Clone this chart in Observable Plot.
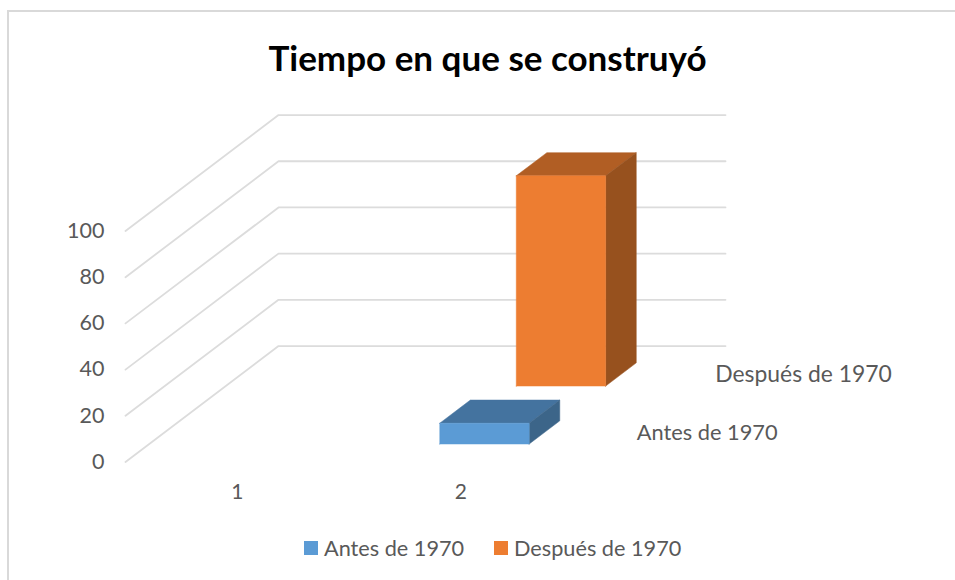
<!DOCTYPE html>
<html lang="es">
<head>
<meta charset="utf-8">
<script src="https://cdn.jsdelivr.net/npm/d3@7"></script>
<script src="https://cdn.jsdelivr.net/npm/@observablehq/plot@0.6"></script>
<style>
  html, body { margin: 0; padding: 0; background: #fff; }
  #chart { position: relative; width: 955px; height: 580px; overflow: hidden; font-family: Lato, sans-serif; }
  #frame { position: absolute; left: 7px; top: 10px; right: -5px; bottom: -5px; border: 2px solid #d9d9d9; box-sizing: border-box; }
  #title { position: absolute; left: 7px; width: 961px; top: 37px; text-align: center; font-size: 35px; line-height: 40px; font-weight: 700; color: #000; margin: 0; }
  #legend { position: absolute; top: 536px; left: 0; height: 24px; }
  #legend .item { position: absolute; top: 0; white-space: nowrap; font-size: 21.7px; line-height: 24px; color: #595959; }
  #legend .swatch { position: absolute; left: 0; top: 5px; width: 14px; height: 14px; }
  #legend .label { position: absolute; left: 20px; top: 0; }
  #plot { position: absolute; left: 0; top: 0; }
</style>
</head>
<body>
<div id="chart">
  <div id="frame"></div>
  <div id="plot"></div>
  <h1 id="title"></h1>
  <div id="legend"></div>
</div>
<script>
const chartTitle = "Tiempo en que se construyó";
const categories = ["1", "2"];
const series = ["Antes de 1970", "Después de 1970"];
const seriesCategory = [1, 1];          // both bars stand on category "2"
const values = [9, 91];
const yTicks = [0, 20, 40, 60, 80, 100];
const frontColors = ["#5b9bd5", "#ed7d31"];
const topColors = ["#44739f", "#b15e24"];
const sideColors = ["#3c6589", "#97511e"];

// Oblique projection: one unit of depth, expressed in x and y scale units.
const depthX = 0.6846, depthY = 50.2;
const seriesDepth = [0.255, 0.755];
const barDepth = 0.2, barWidth = 0.4;
const labelDepth = [0.25, 0.75];
const labelSize = [21.8, 22.9];
const labelOffset = [26, 28];
const px = (c, d) => c + d * depthX;
const py = (v, d) => v + d * depthY;
const pt = (c, v, d, key) => ({x: px(c, d), y: py(v, d), key});

const grid = yTicks.flatMap((t) => [
  pt(0, t, 0, t), pt(0, t, 1, t), pt(categories.length, t, 1, t)
]);

function face(i, kind) {
  const c0 = seriesCategory[i] + 0.5 - barWidth / 2, c1 = c0 + barWidth;
  const d0 = seriesDepth[i] - barDepth / 2, d1 = d0 + barDepth;
  const v = values[i];
  if (kind === "front") return [pt(c0,0,d0), pt(c1,0,d0), pt(c1,v,d0), pt(c0,v,d0), pt(c0,0,d0)];
  if (kind === "top")   return [pt(c0,v,d0), pt(c1,v,d0), pt(c1,v,d1), pt(c0,v,d1), pt(c0,v,d0)];
  return [pt(c1,0,d0), pt(c1,0,d1), pt(c1,v,d1), pt(c1,v,d0), pt(c1,0,d0)];
}
const faceMark = (i, kind, fill) => Plot.line(face(i, kind), {
  x: "x", y: "y", fill, stroke: fill, strokeWidth: 0.5, curve: "linear-closed"
});

const plot = Plot.plot({
  width: 955,
  height: 580,
  marginLeft: 125,
  marginRight: 383,
  marginTop: 230.5,
  marginBottom: 118.5,
  style: {background: "transparent", fontFamily: "Lato, sans-serif"},
  x: {domain: [0, categories.length]},
  y: {domain: [0, 100]},
  marks: [
    Plot.line(grid, {x: "x", y: "y", z: "key", stroke: "#dcdcdc", strokeWidth: 1.8}),
    ...series.flatMap((s, i) => [
      faceMark(i, "top", topColors[i]),
      faceMark(i, "side", sideColors[i]),
      faceMark(i, "front", frontColors[i])
    ]),
    Plot.axisY({
      ticks: yTicks, tickSize: 0, tickPadding: 21, label: null,
      fontSize: 21.5, fill: "#595959"
    }),
    Plot.axisX({
      ticks: categories.map((c, i) => i + 0.5),
      tickFormat: (t) => categories[Math.floor(t)],
      tickSize: 0, tickPadding: 22, label: null,
      fontSize: 21, fill: "#595959"
    }),
    ...series.map((s, i) => Plot.text([s], {
      x: () => px(categories.length, labelDepth[i]),
      y: () => py(0, labelDepth[i]),
      text: (d) => d,
      textAnchor: "start",
      dx: labelOffset[i],
      fontSize: labelSize[i],
      fill: "#595959"
    }))
  ]
});
document.getElementById("plot").append(plot);
document.getElementById("title").textContent = chartTitle;

const legendX = [304, 494];
const legend = document.getElementById("legend");
series.forEach((s, i) => {
  const item = document.createElement("div");
  item.className = "item";
  item.style.left = legendX[i] + "px";
  item.innerHTML = `<span class="swatch" style="background:${frontColors[i]}"></span><span class="label"></span>`;
  item.querySelector(".label").textContent = s;
  legend.append(item);
});
</script>
</body>
</html>
